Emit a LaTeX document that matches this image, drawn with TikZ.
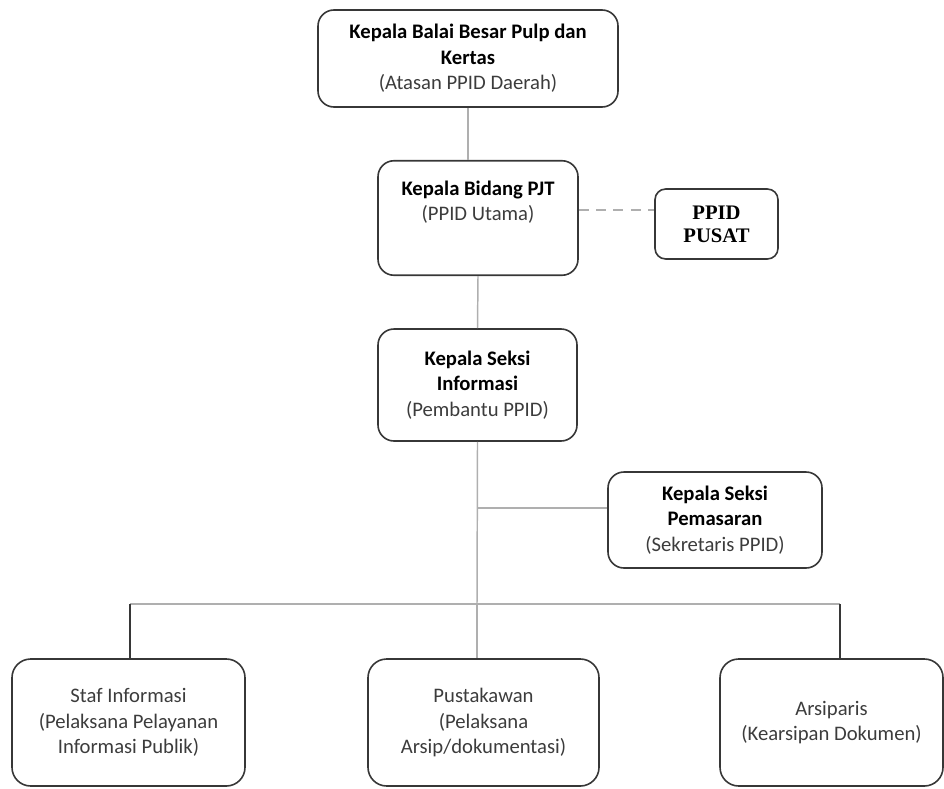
\documentclass[tikz,border=0pt]{standalone}
\usepackage{fontspec}
\setmainfont{Carlito}
\newfontfamily\pusatfont{Liberation Serif}
\usepackage{tikz}
\usetikzlibrary{positioning,calc}
\definecolor{boxline}{RGB}{55,55,55}
\definecolor{linkgray}{RGB}{175,175,175}
\definecolor{txtgray}{RGB}{60,60,60}

\tikzset{
  orgbox/.style={draw=boxline, line width=1.2pt, rounded corners=12pt,
                 align=center, inner sep=4pt,
                 font=\fontsize{15.5}{19}\selectfont, text=txtgray},
  link/.style={draw=linkgray, line width=1.1pt},
  droplink/.style={draw=boxline, line width=1.1pt}
}

\begin{document}
\begin{tikzpicture}[x=0.75pt,y=-0.75pt]
  \useasboundingbox (0,0) rectangle (944,788);
  % upper chain
  \node[orgbox, minimum width=225pt, minimum height=72.75pt] (kbb) at (468,58.5)
    {\textbf{\color{black}Kepala Balai Besar Pulp dan}\\
     \textbf{\color{black}Kertas}\\(Atasan PPID Daerah)};
  \node[orgbox, minimum width=150pt, inner ysep=15pt, text depth=26pt] (kbid) at (478,218)
    {\textbf{\color{black}Kepala Bidang PJT}\\(PPID Utama)};
  \node[orgbox, rounded corners=8pt, minimum width=92.25pt, minimum height=52.5pt,
        font=\pusatfont\bfseries\fontsize{15.5}{17.25}\selectfont, text=black]
    (pusat) at (716.5,224) {PPID\\PUSAT};
  \node[orgbox, minimum width=149.25pt, minimum height=84pt] (kinf) at (477.5,385)
    {\textbf{\color{black}Kepala Seksi}\\
     \textbf{\color{black}Informasi}\\(Pembantu PPID)};
  \node[orgbox, minimum width=160.5pt, minimum height=72pt] (kpem) at (715,520)
    {\textbf{\color{black}Kepala Seksi}\\
     \textbf{\color{black}Pemasaran}\\(Sekretaris PPID)};
  % bottom row
  \node[orgbox, rounded corners=14pt, minimum width=174.75pt, minimum height=95.25pt]
    (staf) at (128.5,722.5)
    {Staf Informasi\\(Pelaksana Pelayanan\\Informasi Publik)};
  \node[orgbox, rounded corners=14pt, minimum width=173.25pt, minimum height=95.25pt]
    (pust) at (483.5,722.5)
    {Pustakawan\\(Pelaksana\\Arsip/dokumentasi)};
  \node[orgbox, rounded corners=14pt, minimum width=167.25pt, minimum height=95.25pt]
    (arsip) at (831.5,722.5)
    {Arsiparis\\(Kearsipan Dokumen)};

  % junctions
  \coordinate (jpem) at (477,508);
  \coordinate (jbus) at (477,604);
  \coordinate (jleft) at (130,604);
  \coordinate (jright) at (840,604);

  % connectors
  \draw[link] (kbb.south) -- (kbb.south |- kbid.north);
  \draw[link] (kbid.south) -- (kinf.north);
  \draw[link, dashed, dash pattern=on 7.5pt off 5.5pt]
    ([yshift=6pt]kbid.east) -- ([yshift=6pt]kbid.east -| pusat.west);
  \draw[link] (kinf.south) -- (jbus);
  \draw[link] (jpem) -- (jpem -| kpem.west);
  \draw[link] (jleft) -- (jright);
  \draw[link] (jbus) -- (jbus |- pust.north);
  \draw[droplink] (jleft) -- (jleft |- staf.north);
  \draw[droplink] (jright) -- (jright |- arsip.north);
\end{tikzpicture}
\end{document}
